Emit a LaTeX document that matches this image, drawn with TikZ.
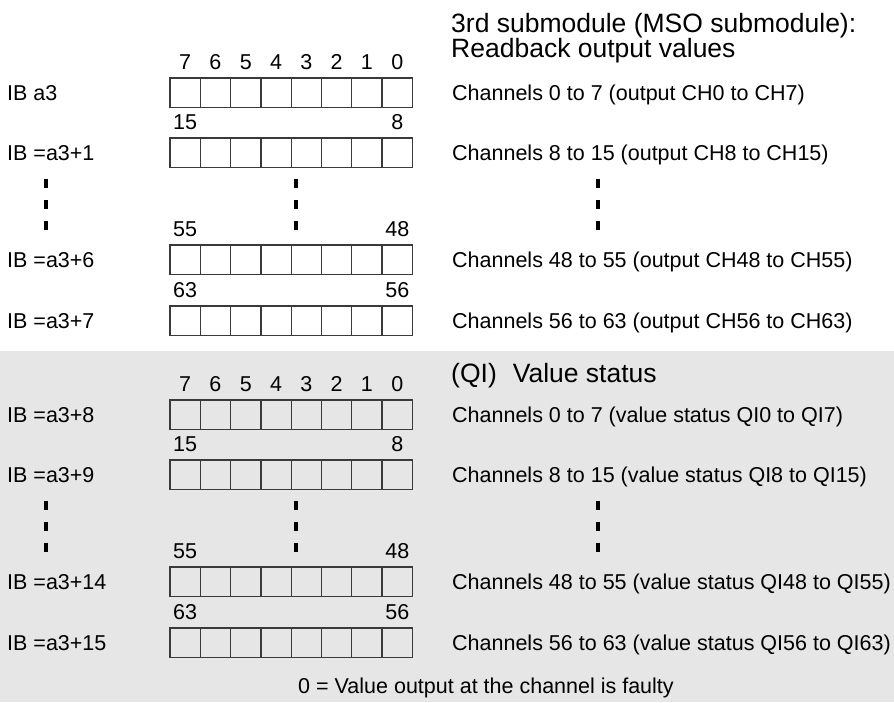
\documentclass[tikz,border=0pt]{standalone}
\usepackage{fontspec}
\setmainfont{Liberation Sans}
\definecolor{graybg}{HTML}{E6E6E6}
\definecolor{boxline}{HTML}{3A3A3A}
\tikzset{
  cell/.style={draw=boxline, line width=1.3pt, minimum width=30.3pt, minimum height=29.5pt, inner sep=0pt, outer sep=0pt},
  lbl/.style={anchor=base west, inner sep=0pt, font=\fontsize{21.5}{24}\selectfont},
  num/.style={anchor=base, inner sep=0pt, font=\fontsize{21.5}{24}\selectfont},
  head/.style={anchor=base west, inner sep=0pt, font=\fontsize{26.5}{28}\selectfont},
  tick/.style={fill=black, draw=none, minimum width=3.6pt, minimum height=9pt, inner sep=0pt}
}
\newcommand\ByteRow[2]{%
  \foreach \i in {0,...,7} {
    \node[cell] (#1-\i) at ({170+30.3*\i+15.15}, {#2+14.75}) {};
  }
}
\newcommand\EdgeNums[4]{% name, top, left, right
  \node[num] (#1-nl) at (185.15, {#2-9}) {#3};
  \node[num] (#1-nr) at (397.25, {#2-9}) {#4};
}
\newcommand\AllNums[2]{%
  \foreach \i/\b in {0/7,1/6,2/5,3/4,4/3,5/2,6/1,7/0} {
    \node[num] (#1-n\i) at ({170+30.3*\i+15.15}, {#2-9}) {\b};
  }
}
\newcommand\Ticks[2]{% name, y offset
  \foreach \x/\c in {46/l,296/m,598/r} {
    \foreach \y/\k in {183/1,204/2,225/3} {
      \node[tick] (#1-\c\k) at (\x, {\y+#2}) {};
    }
  }
}
\begin{document}
\begin{tikzpicture}[x=1pt,y=-1pt]
\useasboundingbox (0,0) rectangle (894,702);
\fill[graybg] (0,351) rectangle (894,702);

% ---------- upper part ----------
\node[head, text depth=0pt] (title1) at (451,32) {3rd submodule (MSO submodule):};
\node[head, text height=19pt] (title2) at (451,57) {Readback output values};

\AllNums{A}{78}
\ByteRow{A}{78}
\node[lbl] (labA) at (7,100) {IB a3};
\node[lbl] (txtA) at (452,100) {Channels 0 to 7 (output CH0 to CH7)};

\EdgeNums{B}{138}{15}{8}
\ByteRow{B}{138}
\node[lbl] (labB) at (7,160) {IB =a3+1};
\node[lbl] (txtB) at (452,160) {Channels 8 to 15 (output CH8 to CH15)};

\Ticks{T1}{0}

\EdgeNums{C}{245}{55}{48}
\ByteRow{C}{245}
\node[lbl] (labC) at (7,267) {IB =a3+6};
\node[lbl] (txtC) at (452,267) {Channels 48 to 55 (output CH48 to CH55)};

\EdgeNums{D}{306}{63}{56}
\ByteRow{D}{306}
\node[lbl] (labD) at (7,328) {IB =a3+7};
\node[lbl] (txtD) at (452,328) {Channels 56 to 63 (output CH56 to CH63)};

% ---------- lower part ----------
\node[head] (title3) at (451,382) {(QI)\hspace{16pt}Value status};

\AllNums{E}{400}
\ByteRow{E}{400}
\node[lbl] (labE) at (7,422) {IB =a3+8};
\node[lbl] (txtE) at (452,422) {Channels 0 to 7 (value status QI0 to QI7)};

\EdgeNums{F}{460}{15}{8}
\ByteRow{F}{460}
\node[lbl] (labF) at (7,482) {IB =a3+9};
\node[lbl] (txtF) at (452,482) {Channels 8 to 15 (value status QI8 to QI15)};

\Ticks{T2}{322}

\EdgeNums{G}{567}{55}{48}
\ByteRow{G}{567}
\node[lbl] (labG) at (7,589) {IB =a3+14};
\node[lbl] (txtG) at (452,589) {Channels 48 to 55 (value status QI48 to QI55)};

\EdgeNums{H}{628}{63}{56}
\ByteRow{H}{628}
\node[lbl] (labH) at (7,650) {IB =a3+15};
\node[lbl] (txtH) at (452,650) {Channels 56 to 63 (value status QI56 to QI63)};

\node[num] (foot) at (486,693) {0 = Value output at the channel is faulty};
\end{tikzpicture}
\end{document}
